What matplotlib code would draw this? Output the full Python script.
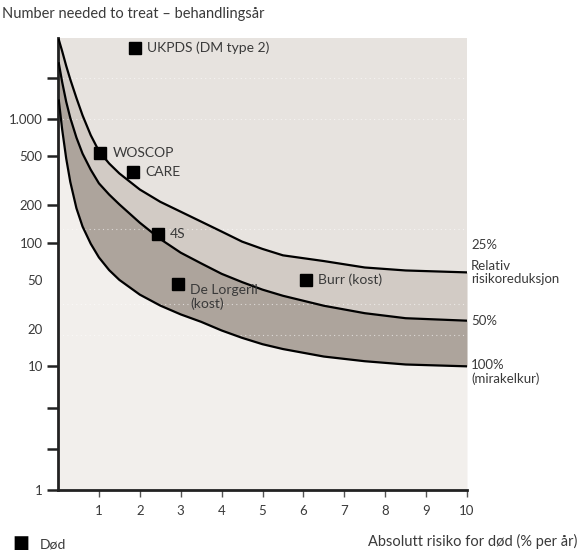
import matplotlib
matplotlib.use("Agg")
import matplotlib.pyplot as plt

# risk grid (% per year) and NNT readings for each relative risk reduction curve
risk = [0.02, 0.1, 0.2, 0.3, 0.45, 0.6, 0.8, 1.0, 1.25, 1.5, 2.0, 2.5, 3.0, 3.5, 4.0, 4.5,
        5.0, 5.5, 6.5, 7.5, 8.5, 10]
nnt_25 = [4370, 3550, 2690, 2090, 1480, 1070, 740, 550, 437, 363, 269, 214, 178, 148, 123, 102,
          89, 79, 71, 63, 59.6, 57.5]
nnt_50 = [2820, 2000, 1380, 1020, 708, 525, 389, 302, 245, 204, 145, 107, 83, 68, 56, 48,
          41.7, 37.2, 30.9, 26.9, 24.5, 23.4]
nnt_100 = [1410, 830, 480, 310, 190, 135, 98, 76, 60, 50, 38, 31, 26.3, 22.9, 19.5, 17,
           15.1, 13.8, 12, 11, 10.35, 10]

studies = ["UKPDS (DM type 2)", "WOSCOP", "CARE", "4S", "De Lorgeril\n(kost)", "Burr (kost)"]
study_x = [1.88, 1.03, 1.83, 2.44, 2.93, 6.06]
study_y = [3780, 530, 370, 118, 46, 50]

ytick_vals = [1, 10, 20, 50, 100, 200, 500, 1000]
ytick_labels = ["1", "10", "20", "50", "100", "200", "500", "1.000"]
yminor_vals = [2.15, 4.64, 2150]

plt.rcParams['font.family'] = ['Lato', 'DejaVu Sans']
txt = '#3a3a3a'

fig = plt.figure(figsize=(5.79, 5.54), dpi=100)
fig.patch.set_facecolor('white')
ax = fig.add_axes([0.1002, 0.1155, 0.7064, 0.8155])
ax.set_facecolor('#e7e3df')
ax.set_yscale('log')
ax.set_xlim(0, 10)
ax.set_ylim(1, 4500)

ax.fill_between(risk, nnt_50, nnt_25, color='#d2cbc5', lw=0)
ax.fill_between(risk, nnt_100, nnt_50, color='#ada49c', lw=0)
ax.fill_between(risk, 1, nnt_100, color='#f2efec', lw=0)
for v in [2150, 1000, 130, 32, 18]:
    ax.axhline(v, color='white', lw=0.8, ls=(0, (1, 3)), alpha=0.6, zorder=1)

for ys in (nnt_25, nnt_50, nnt_100):
    ax.plot(risk, ys, color='black', lw=1.6, zorder=3)

ax.plot(study_x, study_y, 's', color='black', ms=9, zorder=4)
for name, sx, sy in zip(studies, study_x, study_y):
    ax.text(sx + 0.3, sy, name, fontsize=10, color=txt, va='center' if '\n' not in name else 'top',
            ha='left', zorder=5, linespacing=1.1)

for sp in ['top', 'right']:
    ax.spines[sp].set_visible(False)
for sp in ['left', 'bottom']:
    ax.spines[sp].set_linewidth(2)
    ax.spines[sp].set_color('#222222')

ax.set_yticks(ytick_vals)
ax.set_yticklabels(ytick_labels)
ax.set_yticks(yminor_vals, minor=True)
ax.set_yticklabels([], minor=True)
ax.tick_params(axis='y', which='both', length=8, width=1.8, color='#222222', labelsize=9.5,
               labelcolor=txt, pad=3)
for i, t in enumerate(ax.yaxis.get_major_ticks()):
    if ytick_vals[i] in (20, 50):
        t.tick1line.set_visible(False)

ax.set_xticks(range(1, 11))
ax.tick_params(axis='x', length=5, width=1, color='#555555', labelsize=9.5, labelcolor=txt, pad=6)

# right-hand labels
ax.text(10.1, 96, "25%", fontsize=9.5, color=txt, va='center', ha='left', clip_on=False)
ax.text(10.1, 57, "Relativ\nrisikoreduksjon", fontsize=9.5, color=txt, va='center', ha='left',
        clip_on=False, linespacing=1.1)
ax.text(10.1, 23.4, "50%", fontsize=9.5, color=txt, va='center', ha='left', clip_on=False)
ax.text(10.1, 9.0, "100%\n(mirakelkur)", fontsize=9.5, color=txt, va='center', ha='left',
        clip_on=False, linespacing=1.2)

fig.text(0.004, 0.975, "Number needed to treat – behandlingsår", fontsize=10.5, color=txt,
         ha='left', va='center')
fig.text(0.997, 0.022, "Absolutt risiko for død (% per år)", fontsize=10.5, color=txt,
         ha='right', va='center')
fig.text(0.022, 0.019, "■", fontsize=13, color='black', ha='left', va='center')
fig.text(0.068, 0.017, "Død", fontsize=10, color=txt, ha='left', va='center')

fig.savefig('out.png', dpi=100)
